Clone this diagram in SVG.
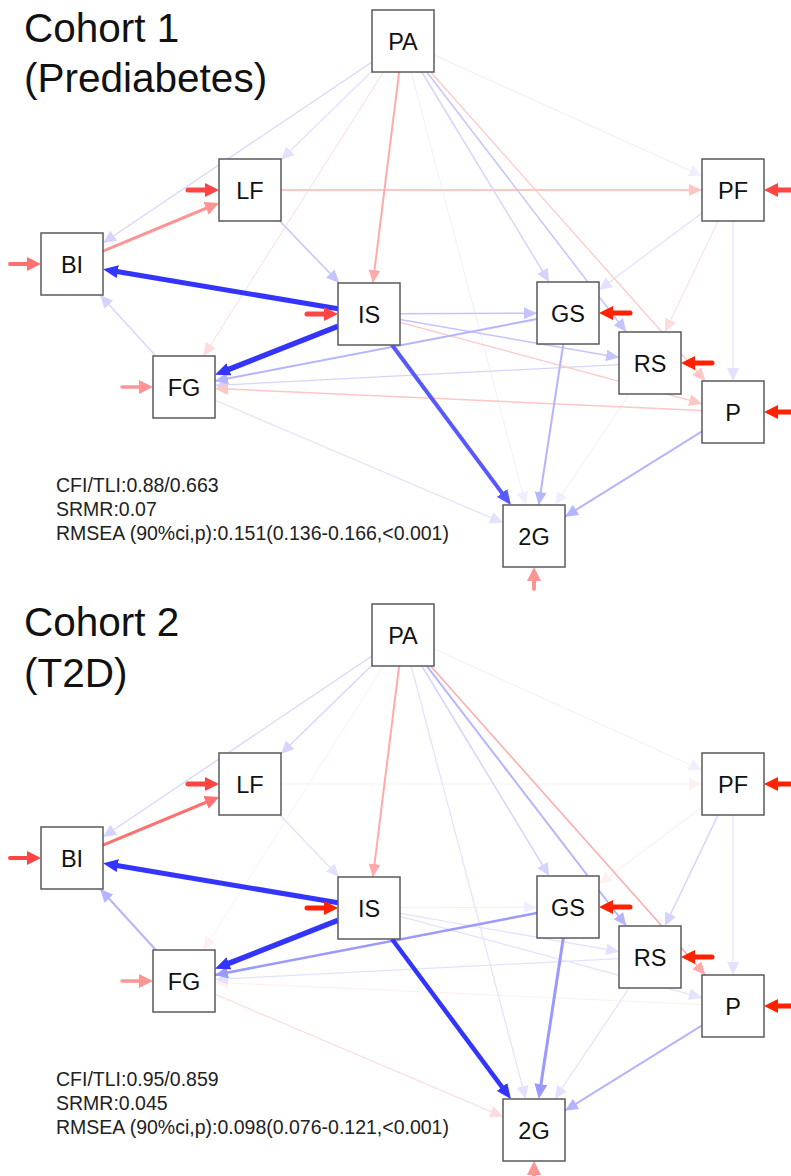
<svg xmlns="http://www.w3.org/2000/svg" width="791" height="1176" viewBox="0 0 791 1176">
<defs>
<style>
.box{fill:#fff;stroke:#5a5a5a;stroke-width:1.5}
.lbl{font-family:"Liberation Sans",Arial,sans-serif;font-size:23.5px;fill:#111;text-anchor:middle}
.ttl{font-family:"Liberation Sans",Arial,sans-serif;font-size:40.5px;fill:#111}
.fit{font-family:"Liberation Sans",Arial,sans-serif;font-size:19.5px;fill:#222}
line{fill:none}
.res{stroke-linecap:round}
.B1{stroke:#3434ff}.B2{stroke:#5858ff}.B3{stroke:#9999ff}.B4{stroke:#b4b4ff}.B5{stroke:#c4c4ff}.B6{stroke:#d4d4ff}.B7{stroke:#e2e2ff}.B8{stroke:#efefff}
.R1{stroke:#ff2200}.R2{stroke:#ff4444}.R3{stroke:#ff7070}.R4{stroke:#ff9494}.R5{stroke:#ffaaaa}.R6{stroke:#ffc6c6}.R7{stroke:#ffdcdc}.R8{stroke:#fff0f0}
</style>
<marker id="tB3" viewBox="0 0 13 12" refX="13" refY="6" markerWidth="13" markerHeight="12" markerUnits="userSpaceOnUse" orient="auto"><path d="M0,0L13,6L0,12z" fill="#9999ff"/></marker>
<marker id="tB4" viewBox="0 0 13 12" refX="13" refY="6" markerWidth="13" markerHeight="12" markerUnits="userSpaceOnUse" orient="auto"><path d="M0,0L13,6L0,12z" fill="#b4b4ff"/></marker>
<marker id="tB5" viewBox="0 0 13 12" refX="13" refY="6" markerWidth="13" markerHeight="12" markerUnits="userSpaceOnUse" orient="auto"><path d="M0,0L13,6L0,12z" fill="#c4c4ff"/></marker>
<marker id="tB6" viewBox="0 0 13 12" refX="13" refY="6" markerWidth="13" markerHeight="12" markerUnits="userSpaceOnUse" orient="auto"><path d="M0,0L13,6L0,12z" fill="#d4d4ff"/></marker>
<marker id="tB7" viewBox="0 0 13 12" refX="13" refY="6" markerWidth="13" markerHeight="12" markerUnits="userSpaceOnUse" orient="auto"><path d="M0,0L13,6L0,12z" fill="#e2e2ff"/></marker>
<marker id="tB8" viewBox="0 0 13 12" refX="13" refY="6" markerWidth="13" markerHeight="12" markerUnits="userSpaceOnUse" orient="auto"><path d="M0,0L13,6L0,12z" fill="#efefff"/></marker>
<marker id="tR5" viewBox="0 0 13 12" refX="13" refY="6" markerWidth="13" markerHeight="12" markerUnits="userSpaceOnUse" orient="auto"><path d="M0,0L13,6L0,12z" fill="#ffaaaa"/></marker>
<marker id="tR6" viewBox="0 0 13 12" refX="13" refY="6" markerWidth="13" markerHeight="12" markerUnits="userSpaceOnUse" orient="auto"><path d="M0,0L13,6L0,12z" fill="#ffc6c6"/></marker>
<marker id="tR7" viewBox="0 0 13 12" refX="13" refY="6" markerWidth="13" markerHeight="12" markerUnits="userSpaceOnUse" orient="auto"><path d="M0,0L13,6L0,12z" fill="#ffdcdc"/></marker>
<marker id="tR8" viewBox="0 0 13 12" refX="13" refY="6" markerWidth="13" markerHeight="12" markerUnits="userSpaceOnUse" orient="auto"><path d="M0,0L13,6L0,12z" fill="#fff0f0"/></marker>
<marker id="kB1" viewBox="0 0 15 13" refX="7" refY="6.5" markerWidth="15" markerHeight="13" markerUnits="userSpaceOnUse" orient="auto"><path d="M0,0L15,6.5L0,13z" fill="#3434ff"/></marker>
<marker id="kB2" viewBox="0 0 15 13" refX="7" refY="6.5" markerWidth="15" markerHeight="13" markerUnits="userSpaceOnUse" orient="auto"><path d="M0,0L15,6.5L0,13z" fill="#5858ff"/></marker>
<marker id="kB3" viewBox="0 0 15 13" refX="7" refY="6.5" markerWidth="15" markerHeight="13" markerUnits="userSpaceOnUse" orient="auto"><path d="M0,0L15,6.5L0,13z" fill="#9999ff"/></marker>
<marker id="kR1" viewBox="0 0 14 14" refX="6" refY="7" markerWidth="14" markerHeight="14" markerUnits="userSpaceOnUse" orient="auto"><path d="M0,0L14,7L0,14z" fill="#ff2200"/></marker>
<marker id="kR2" viewBox="0 0 14 14" refX="6" refY="7" markerWidth="14" markerHeight="14" markerUnits="userSpaceOnUse" orient="auto"><path d="M0,0L14,7L0,14z" fill="#ff4444"/></marker>
<marker id="kR3" viewBox="0 0 14 14" refX="6" refY="7" markerWidth="14" markerHeight="14" markerUnits="userSpaceOnUse" orient="auto"><path d="M0,0L14,7L0,14z" fill="#ff7070"/></marker>
<marker id="kR4" viewBox="0 0 14 14" refX="6" refY="7" markerWidth="14" markerHeight="14" markerUnits="userSpaceOnUse" orient="auto"><path d="M0,0L14,7L0,14z" fill="#ff9494"/></marker>
</defs>
<rect width="791" height="1176" fill="#fff"/>

<!-- ===== Cohort 1 ===== -->
<g id="cohort1">
<text class="ttl" x="24" y="42">Cohort 1</text>
<text class="ttl" x="24" y="92">(Prediabetes)</text>
<text class="fit" x="56" y="492">CFI/TLI:0.88/0.663</text>
<text class="fit" x="56" y="516">SRMR:0.07</text>
<text class="fit" x="56" y="540">RMSEA (90%ci,p):0.151(0.136-0.166,&lt;0.001)</text>

<g id="connectors-1">
<line class="B8" stroke-width="1" x1="411.2" y1="72" x2="525.8" y2="505" marker-end="url(#tB8)"/>
<line class="B8" stroke-width="1" x1="629.2" y1="394" x2="554.8" y2="505" marker-end="url(#tB8)"/>
<line class="B7" stroke-width="1.2" x1="372" y1="71.2" x2="281" y2="159.8" marker-end="url(#tB7)"/>
<line class="B8" stroke-width="1.2" x1="434" y1="55" x2="702" y2="176" marker-end="url(#tB8)"/>
<line class="B7" stroke-width="1.2" x1="215" y1="400.2" x2="503" y2="522.8" marker-end="url(#tB7)"/>
<line class="B7" stroke-width="1.2" x1="702" y1="213.1" x2="599" y2="289.9" marker-end="url(#tB7)"/>
<line class="B7" stroke-width="1.2" x1="733" y1="221" x2="733" y2="381" marker-end="url(#tB7)"/>
<line class="R7" stroke-width="1" x1="383.4" y1="72" x2="203.6" y2="356" marker-end="url(#tR7)"/>
<line class="R7" stroke-width="1" x1="718.1" y1="221" x2="664.9" y2="332" marker-end="url(#tR7)"/>
<line class="B6" stroke-width="1.2" x1="372" y1="61.9" x2="103" y2="243.1" marker-end="url(#tB6)"/>
<line class="B6" stroke-width="1.3" x1="619" y1="364.6" x2="215" y2="385.4" marker-end="url(#tB6)"/>
<line class="B6" stroke-width="1.3" x1="155.8" y1="356" x2="100.2" y2="295" marker-end="url(#tB6)"/>
<line class="R6" stroke-width="1.2" x1="430.6" y1="72" x2="705.4" y2="381" marker-end="url(#tR6)"/>
<line class="R6" stroke-width="2" x1="281" y1="190" x2="702" y2="190" marker-end="url(#tR6)"/>
<line class="R6" stroke-width="1.3" x1="400" y1="322.3" x2="702" y2="403.7" marker-end="url(#tR6)"/>
<line class="R6" stroke-width="1.5" x1="702" y1="410.6" x2="215" y2="388.4" marker-end="url(#tR6)"/>
<line class="B6" stroke-width="1.5" x1="421.8" y1="72" x2="549.2" y2="282" marker-end="url(#tB6)"/>
<line class="B5" stroke-width="1.5" x1="426.8" y1="72" x2="626.2" y2="332" marker-end="url(#tB5)"/>
<line class="B5" stroke-width="1.5" x1="279.8" y1="221" x2="339.2" y2="283" marker-end="url(#tB5)"/>
<line class="B5" stroke-width="1.5" x1="400" y1="313.8" x2="537" y2="313.2" marker-end="url(#tB5)"/>
<line class="B5" stroke-width="1.5" x1="400" y1="319.4" x2="619" y2="357.6" marker-end="url(#tB5)"/>
<line class="B4" stroke-width="2" x1="537" y1="319" x2="215" y2="381" marker-end="url(#tB4)"/>
<line class="B4" stroke-width="2" x1="563.3" y1="344" x2="538.7" y2="505" marker-end="url(#tB4)"/>
<line class="B4" stroke-width="2" x1="702" y1="431.3" x2="565" y2="516.7" marker-end="url(#tB4)"/>
<line class="R5" stroke-width="2" x1="399.1" y1="72" x2="372.9" y2="283" marker-end="url(#tR5)"/>
<line class="R4" stroke-width="3" x1="103" y1="251.1" x2="211.6" y2="206" marker-end="url(#kR4)"/>
<line class="B2" stroke-width="4" x1="392" y1="345" x2="506.2" y2="498.6" marker-end="url(#kB2)"/>
<line class="B1" stroke-width="5" x1="338" y1="308.8" x2="110.9" y2="270.5" marker-end="url(#kB1)"/>
<line class="B1" stroke-width="5.5" x1="338" y1="326.2" x2="222.4" y2="371.9" marker-end="url(#kB1)"/>
<!-- residuals -->
<line class="R3 res" stroke-width="4" x1="10" y1="264" x2="33" y2="264" marker-end="url(#kR3)"/>
<line class="R2 res" stroke-width="5" x1="188" y1="190" x2="211" y2="190" marker-end="url(#kR2)"/>
<line class="R2 res" stroke-width="5" x1="307" y1="314" x2="330" y2="314" marker-end="url(#kR2)"/>
<line class="R4 res" stroke-width="3.5" x1="122" y1="387" x2="145" y2="387" marker-end="url(#kR4)"/>
<line class="R1 res" stroke-width="5" x1="630" y1="313" x2="607" y2="313" marker-end="url(#kR1)"/>
<line class="R1 res" stroke-width="5" x1="712" y1="363" x2="689" y2="363" marker-end="url(#kR1)"/>
<line class="R1 res" stroke-width="5" x1="800" y1="412" x2="772" y2="412" marker-end="url(#kR1)"/>
<line class="R2 res" stroke-width="5" x1="800" y1="190" x2="772" y2="190" marker-end="url(#kR2)"/>
<line class="R4 res" stroke-width="4" x1="534" y1="589" x2="534" y2="575" marker-end="url(#kR4)"/>
</g>

<g id="c1-PA"><rect class="box" x="372" y="10" width="62" height="62"/><text class="lbl" x="403" y="49.5">PA</text></g>
<g id="c1-LF"><rect class="box" x="219" y="159" width="62" height="62"/><text class="lbl" x="250" y="198.5">LF</text></g>
<g id="c1-BI"><rect class="box" x="41" y="233" width="62" height="62"/><text class="lbl" x="72" y="272.5">BI</text></g>
<g id="c1-PF"><rect class="box" x="702" y="159" width="62" height="62"/><text class="lbl" x="733" y="198.5">PF</text></g>
<g id="c1-IS"><rect class="box" x="338" y="283" width="62" height="62"/><text class="lbl" x="369" y="322.5">IS</text></g>
<g id="c1-FG"><rect class="box" x="153" y="356" width="62" height="62"/><text class="lbl" x="184" y="395.5">FG</text></g>
<g id="c1-GS"><rect class="box" x="537" y="282" width="62" height="62"/><text class="lbl" x="568" y="321.5">GS</text></g>
<g id="c1-RS"><rect class="box" x="619" y="332" width="62" height="62"/><text class="lbl" x="650" y="371.5">RS</text></g>
<g id="c1-P"><rect class="box" x="702" y="381" width="62" height="62"/><text class="lbl" x="733" y="420.5">P</text></g>
<g id="c1-2G"><rect class="box" x="503" y="505" width="62" height="62"/><text class="lbl" x="534" y="544.5">2G</text></g>
</g>

<!-- ===== Cohort 2 ===== -->
<g id="cohort2" transform="translate(0,594)">
<text class="ttl" x="24" y="42">Cohort 2</text>
<text class="ttl" x="24" y="93">(T2D)</text>
<text class="fit" x="56" y="492">CFI/TLI:0.95/0.859</text>
<text class="fit" x="56" y="516">SRMR:0.045</text>
<text class="fit" x="56" y="540">RMSEA (90%ci,p):0.098(0.076-0.121,&lt;0.001)</text>

<g id="connectors-2">
<line class="B8" stroke-width="1" x1="434" y1="55" x2="702" y2="176" marker-end="url(#tB8)"/>
<line class="B8" stroke-width="1" x1="400" y1="313.8" x2="537" y2="313.2" marker-end="url(#tB8)"/>
<line class="R8" stroke-width="1" x1="383.4" y1="72" x2="203.6" y2="356" marker-end="url(#tR8)"/>
<line class="R8" stroke-width="1.2" x1="281" y1="190" x2="702" y2="190" marker-end="url(#tR8)"/>
<line class="R8" stroke-width="1.2" x1="702" y1="410.6" x2="215" y2="388.4" marker-end="url(#tR8)"/>
<line class="R8" stroke-width="1.2" x1="702" y1="213.1" x2="599" y2="289.9" marker-end="url(#tR8)"/>
<line class="B7" stroke-width="1.2" x1="411.2" y1="72" x2="525.8" y2="505" marker-end="url(#tB7)"/>
<line class="B7" stroke-width="1.3" x1="279.8" y1="221" x2="339.2" y2="283" marker-end="url(#tB7)"/>
<line class="B7" stroke-width="1.3" x1="400" y1="319.4" x2="619" y2="357.6" marker-end="url(#tB7)"/>
<line class="B7" stroke-width="1.3" x1="400" y1="322.3" x2="702" y2="403.7" marker-end="url(#tB7)"/>
<line class="B7" stroke-width="1.3" x1="619" y1="364.6" x2="215" y2="385.4" marker-end="url(#tB7)"/>
<line class="B7" stroke-width="1.2" x1="733" y1="221" x2="733" y2="381" marker-end="url(#tB7)"/>
<line class="B7" stroke-width="1.2" x1="629.2" y1="394" x2="554.8" y2="505" marker-end="url(#tB7)"/>
<line class="R7" stroke-width="1.2" x1="215" y1="400.2" x2="503" y2="522.8" marker-end="url(#tR7)"/>
<line class="B6" stroke-width="1.2" x1="372" y1="61.9" x2="103" y2="243.1" marker-end="url(#tB6)"/>
<line class="B6" stroke-width="1.3" x1="372" y1="71.2" x2="281" y2="159.8" marker-end="url(#tB6)"/>
<line class="B6" stroke-width="1.5" x1="421.8" y1="72" x2="549.2" y2="282" marker-end="url(#tB6)"/>
<line class="B6" stroke-width="1.5" x1="718.1" y1="221" x2="664.9" y2="332" marker-end="url(#tB6)"/>
<line class="R5" stroke-width="1.5" x1="430.6" y1="72" x2="705.4" y2="381" marker-end="url(#tR5)"/>
<line class="B4" stroke-width="2" x1="426.8" y1="72" x2="626.2" y2="332" marker-end="url(#tB4)"/>
<line class="B4" stroke-width="2" x1="155.8" y1="356" x2="100.2" y2="295" marker-end="url(#tB4)"/>
<line class="B4" stroke-width="2" x1="702" y1="431.3" x2="565" y2="516.7" marker-end="url(#tB4)"/>
<line class="R5" stroke-width="2" x1="399.1" y1="72" x2="372.9" y2="283" marker-end="url(#tR5)"/>
<line class="B3" stroke-width="2.5" x1="537" y1="319" x2="215" y2="381" marker-end="url(#tB3)"/>
<line class="B3" stroke-width="3" x1="563.3" y1="344" x2="539.9" y2="497.1" marker-end="url(#kB3)"/>
<line class="R3" stroke-width="3" x1="103" y1="251.1" x2="211.6" y2="206" marker-end="url(#kR3)"/>
<line class="B1" stroke-width="4.5" x1="392" y1="345" x2="506.2" y2="498.6" marker-end="url(#kB1)"/>
<line class="B1" stroke-width="5" x1="338" y1="308.8" x2="110.9" y2="270.5" marker-end="url(#kB1)"/>
<line class="B1" stroke-width="5.5" x1="338" y1="326.2" x2="222.4" y2="371.9" marker-end="url(#kB1)"/>
<!-- residuals -->
<line class="R2 res" stroke-width="4" x1="10" y1="264" x2="33" y2="264" marker-end="url(#kR2)"/>
<line class="R2 res" stroke-width="5" x1="188" y1="190" x2="211" y2="190" marker-end="url(#kR2)"/>
<line class="R1 res" stroke-width="5" x1="307" y1="314" x2="330" y2="314" marker-end="url(#kR1)"/>
<line class="R4 res" stroke-width="3.5" x1="122" y1="387" x2="145" y2="387" marker-end="url(#kR4)"/>
<line class="R1 res" stroke-width="5" x1="630" y1="313" x2="607" y2="313" marker-end="url(#kR1)"/>
<line class="R1 res" stroke-width="5" x1="712" y1="363" x2="689" y2="363" marker-end="url(#kR1)"/>
<line class="R1 res" stroke-width="5" x1="800" y1="412" x2="772" y2="412" marker-end="url(#kR1)"/>
<line class="R1 res" stroke-width="5" x1="800" y1="190" x2="772" y2="190" marker-end="url(#kR1)"/>
<line class="R4 res" stroke-width="4" x1="534" y1="600" x2="534" y2="575" marker-end="url(#kR4)"/>
</g>

<g id="c2-PA"><rect class="box" x="372" y="10" width="62" height="62"/><text class="lbl" x="403" y="49.5">PA</text></g>
<g id="c2-LF"><rect class="box" x="219" y="159" width="62" height="62"/><text class="lbl" x="250" y="198.5">LF</text></g>
<g id="c2-BI"><rect class="box" x="41" y="233" width="62" height="62"/><text class="lbl" x="72" y="272.5">BI</text></g>
<g id="c2-PF"><rect class="box" x="702" y="159" width="62" height="62"/><text class="lbl" x="733" y="198.5">PF</text></g>
<g id="c2-IS"><rect class="box" x="338" y="283" width="62" height="62"/><text class="lbl" x="369" y="322.5">IS</text></g>
<g id="c2-FG"><rect class="box" x="153" y="356" width="62" height="62"/><text class="lbl" x="184" y="395.5">FG</text></g>
<g id="c2-GS"><rect class="box" x="537" y="282" width="62" height="62"/><text class="lbl" x="568" y="321.5">GS</text></g>
<g id="c2-RS"><rect class="box" x="619" y="332" width="62" height="62"/><text class="lbl" x="650" y="371.5">RS</text></g>
<g id="c2-P"><rect class="box" x="702" y="381" width="62" height="62"/><text class="lbl" x="733" y="420.5">P</text></g>
<g id="c2-2G"><rect class="box" x="503" y="505" width="62" height="62"/><text class="lbl" x="534" y="544.5">2G</text></g>
</g>
</svg>
